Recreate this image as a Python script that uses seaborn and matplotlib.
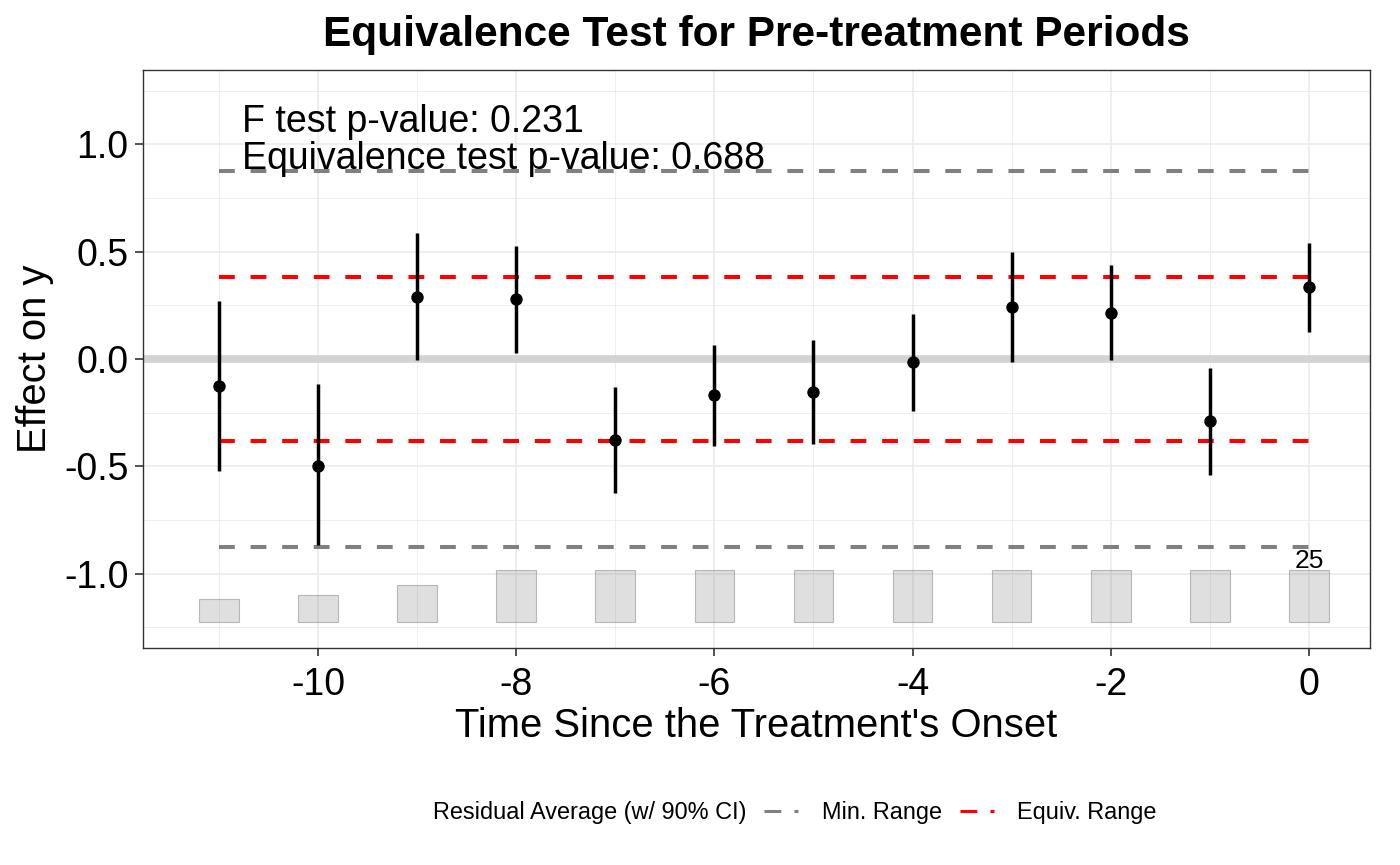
import matplotlib
matplotlib.use("Agg")
import matplotlib.pyplot as plt
from matplotlib.lines import Line2D
from matplotlib.ticker import MultipleLocator
import seaborn as sns
import pandas as pd

# values
periods = [-11, -10, -9, -8, -7, -6, -5, -4, -3, -2, -1, 0]
estimates = [-0.126, -0.499, 0.289, 0.280, -0.378, -0.168, -0.152, -0.014, 0.242, 0.214, -0.289, 0.336]
ci_low = [-0.522, -0.869, -0.005, 0.028, -0.625, -0.406, -0.398, -0.242, -0.014, -0.005, -0.541, 0.126]
ci_high = [0.270, -0.117, 0.587, 0.527, -0.131, 0.065, 0.089, 0.210, 0.499, 0.438, -0.042, 0.541]
counts = [11, 13, 18, 25, 25, 25, 25, 25, 25, 25, 25, 25]
min_range = 0.876
equiv_range = 0.382
f_pvalue = 0.231
equiv_pvalue = 0.688

df = pd.DataFrame({'period': periods, 'est': estimates, 'lo': ci_low, 'hi': ci_high, 'count': counts})

sns.set_theme(style="white")
plt.rcParams['font.family'] = ['Liberation Sans', 'DejaVu Sans']
plt.rcParams['axes.unicode_minus'] = False
plt.rcParams['text.color'] = 'black'
plt.rcParams['axes.labelcolor'] = 'black'

fig, ax = plt.subplots(figsize=(14, 8.65), dpi=100)
fig.subplots_adjust(left=143/1400, right=1370/1400, top=1-70/865, bottom=1-648/865)

# count bars along the bottom
bar_base = -1.226
bar_scale = 0.242 / max(counts)
ax.bar(df['period'], df['count'] * bar_scale, bottom=bar_base, width=0.4,
       color=(0.5, 0.5, 0.5, 0.25), edgecolor=(0.5, 0.5, 0.5, 0.5), linewidth=0.8, zorder=2)
last = df.iloc[-1]
ax.text(last['period'], bar_base + last['count'] * bar_scale + 0.008, f"{last['count']:.0f}",
        ha='center', va='baseline', fontsize=19)

# zero line
ax.axhline(0, color='#d3d3d3', lw=5.5, zorder=1.5)

# range lines
x0, x1 = min(periods), max(periods)
dash = (0, (3.92, 3.92))
ax.hlines([min_range, -min_range], x0, x1, colors='gray', linestyles=dash, lw=2.9, zorder=3)
ax.hlines([equiv_range, -equiv_range], x0, x1, colors='red', linestyles=dash, lw=2.9, zorder=3)

# estimates with CIs
ax.vlines(df['period'], df['lo'], df['hi'], colors='black', lw=2.5, zorder=4)
sns.scatterplot(data=df, x='period', y='est', color='black', s=80, edgecolor='black',
                linewidth=0, zorder=5, ax=ax, legend=False)

ax.text(-10.77, 1.058, f"F test p-value: {f_pvalue:.3f}", fontsize=27, ha='left', va='baseline', zorder=6)
ax.text(-10.77, 0.886, f"Equivalence test p-value: {equiv_pvalue:.3f}", fontsize=27, ha='left', va='baseline', zorder=6)

ax.set_xlim(-11.766, 0.616)
ax.set_ylim(-1.347, 1.347)
ax.set_xticks([-10, -8, -6, -4, -2, 0])
ax.set_yticks([-1.0, -0.5, 0.0, 0.5, 1.0])
ax.set_yticklabels(['-1.0', '-0.5', '0.0', '0.5', '1.0'])
ax.xaxis.set_minor_locator(MultipleLocator(1))
ax.yaxis.set_minor_locator(MultipleLocator(0.25))
ax.grid(which='major', color='#ebebeb', lw=1.2, zorder=0)
ax.grid(which='minor', color='#ebebeb', lw=0.6, zorder=0)
ax.set_axisbelow(True)
ax.tick_params(which='major', length=5.5, width=1.2, color='#333333', labelsize=27,
               bottom=True, left=True, labelcolor='black')
ax.tick_params(axis='x', which='major', pad=8)
ax.tick_params(axis='y', which='major', pad=5)
ax.tick_params(which='minor', length=0)
for s in ax.spines.values():
    s.set_color('#333333')
    s.set_linewidth(1.0)

ax.set_xlabel("Time Since the Treatment's Onset", fontsize=28.8, labelpad=3)
ax.set_ylabel("Effect on y", fontsize=28.8, labelpad=7)
ax.set_title("Equivalence Test for Pre-treatment Periods", fontsize=30.5, fontweight='bold', pad=17)

# legend row at the bottom
fig.text(433/1400, 1-813/865, "Residual Average (w/ 90% CI)", fontsize=16.9, ha='left', va='center')
handles = [Line2D([], [], color='gray', lw=2.2, linestyle=(0, (5.5, 4.3))),
           Line2D([], [], color='red', lw=2.2, linestyle=(0, (5.5, 4.3)))]
fig.legend(handles, ['Min. Range', 'Equiv. Range'], loc='center left',
           bbox_to_anchor=(764/1400, 1-813/865), ncol=2, frameon=False, fontsize=16.9,
           handlelength=1.45, handletextpad=1.0, columnspacing=0.78, borderaxespad=0, borderpad=0)

fig.savefig("out.png", dpi=100)
